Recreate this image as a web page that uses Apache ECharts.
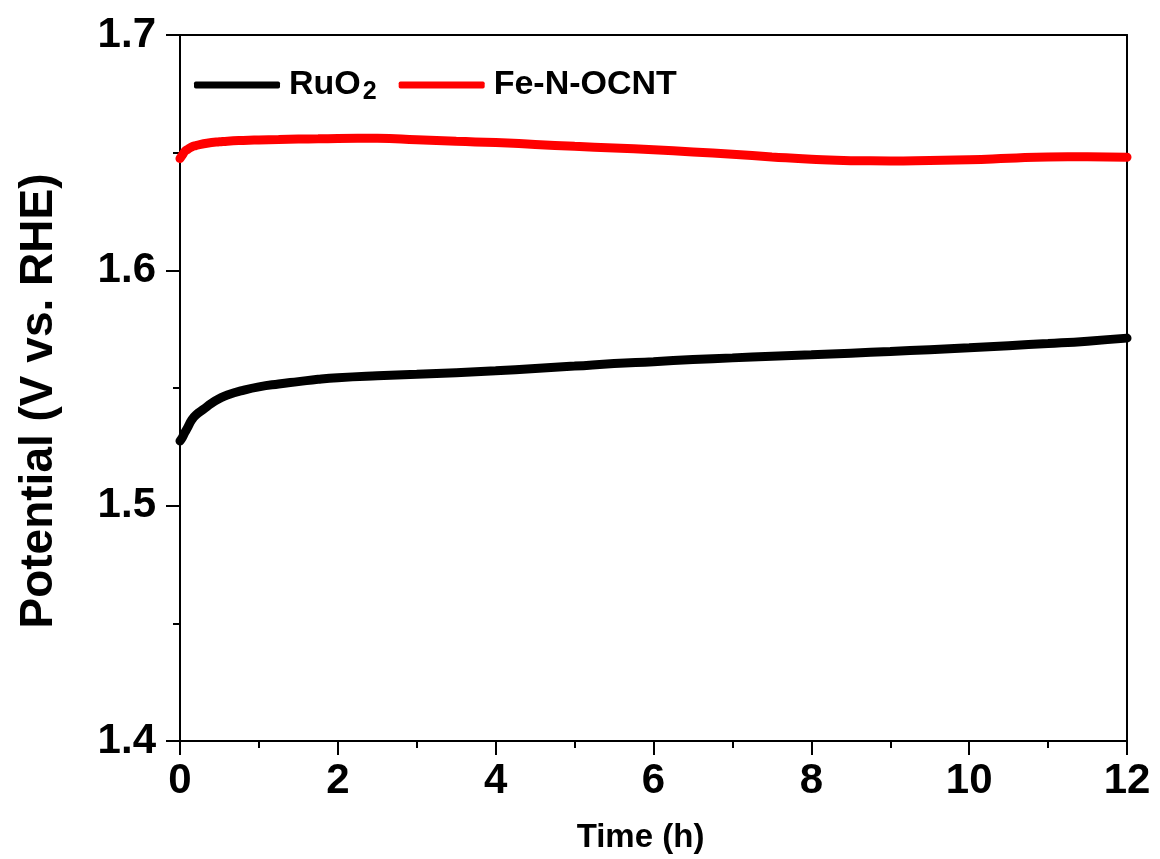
<!DOCTYPE html>
<html>
<head>
<meta charset="utf-8">
<style>html,body{margin:0;padding:0;background:#fff;}#chart{width:1160px;height:859px;}</style>
<script src="https://cdn.jsdelivr.net/npm/echarts@6/dist/echarts.min.js"></script>
</head>
<body>
<div id="chart"></div>
<script>
const seriesNames = ['RuO2', 'Fe-N-OCNT'];
const timeH = [0, 0.03, 0.06, 0.1, 0.15, 0.2, 0.3, 0.4, 0.5, 0.6, 0.8, 1.0, 1.25, 1.5, 1.75, 2.0, 2.5, 3.0, 3.5, 4.0, 4.5, 5.0, 5.5, 6.0, 6.5, 7.0, 7.5, 8.0, 8.5, 9.0, 9.5, 10.0, 10.5, 11.0, 11.5, 12.0];
const ruo2 = [1.5275, 1.529, 1.531, 1.5334, 1.5365, 1.5385, 1.541, 1.5435, 1.5455, 1.547, 1.549, 1.5505, 1.5517, 1.5527, 1.5537, 1.5544, 1.5552, 1.5558, 1.5565, 1.5573, 1.5583, 1.5593, 1.5604, 1.5612, 1.5621, 1.5628, 1.5635, 1.5641, 1.5648, 1.5655, 1.5663, 1.5671, 1.568, 1.5689, 1.5699, 1.5712];
const fenocnt = [1.6475, 1.649, 1.6505, 1.6515, 1.6525, 1.653, 1.6538, 1.6543, 1.6546, 1.6549, 1.6552, 1.6554, 1.6556, 1.6558, 1.6559, 1.656, 1.6561, 1.6555, 1.6548, 1.6543, 1.6535, 1.6527, 1.652, 1.6512, 1.6503, 1.6493, 1.6482, 1.6472, 1.6466, 1.6465, 1.6467, 1.647, 1.6476, 1.6482, 1.6483, 1.6481];
const xTicks = [0, 2, 4, 6, 8, 10, 12];
const yTicks = [1.4, 1.5, 1.6, 1.7];

const FONT = '"Liberation Sans", Arial, sans-serif';
const chart = echarts.init(document.getElementById('chart'));
const pairs = (ys) => timeH.map((t, i) => [t, ys[i]]);

chart.setOption({
  animation: false,
  backgroundColor: '#ffffff',
  grid: { left: 180, right: 33, top: 35, bottom: 118 },
  legend: {
    left: 189, top: 45,
    itemWidth: 86, itemHeight: 7, itemGap: 22,
    icon: 'roundRect',
    data: seriesNames,
    formatter: (n) => n === 'RuO2' ? '{n|RuO}{s|2}' : '{n|' + n + '}',
    textStyle: {
      fontFamily: FONT, fontWeight: 'bold', color: '#000',
      rich: {
        n: { fontFamily: FONT, fontWeight: 'bold', fontSize: 34, lineHeight: 40, color: '#000', padding: [0, 0, 0, 4] },
        s: { fontFamily: FONT, fontWeight: 'bold', fontSize: 25, lineHeight: 25, color: '#000', padding: [30, 0, 0, 2], verticalAlign: 'bottom' }
      }
    }
  },
  xAxis: [{
    type: 'value', min: xTicks[0], max: xTicks[xTicks.length - 1], interval: 2,
    name: 'Time (h)', nameLocation: 'middle', nameGap: 80,
    nameTextStyle: { fontFamily: FONT, fontWeight: 'bold', fontSize: 33, color: '#000', padding: [0, 26, 0, 0] },
    axisLine: { lineStyle: { color: '#000', width: 2 } },
    axisTick: { inside: false, length: 14, lineStyle: { color: '#000', width: 2 } },
    minorTick: { show: true, splitNumber: 2, length: 7, lineStyle: { color: '#000', width: 2 } },
    axisLabel: { fontFamily: FONT, fontWeight: 'bold', fontSize: 42, color: '#000', margin: 19 },
    splitLine: { show: false }
  }, {
    type: 'value', position: 'top', min: 0, max: 12,
    axisLine: { show: true, onZero: false, lineStyle: { color: '#000', width: 2 } },
    axisTick: { show: false }, axisLabel: { show: false }, splitLine: { show: false }
  }],
  yAxis: [{
    type: 'value', min: yTicks[0], max: yTicks[yTicks.length - 1], interval: 0.1,
    name: 'Potential (V vs. RHE)', nameLocation: 'middle', nameGap: 118,
    nameTextStyle: { fontFamily: FONT, fontWeight: 'bold', fontSize: 46, color: '#000', padding: [0, 26, 0, 0] },
    axisLine: { show: true, lineStyle: { color: '#000', width: 2 } },
    axisTick: { show: true, inside: false, length: 14, lineStyle: { color: '#000', width: 2 } },
    minorTick: { show: true, splitNumber: 2, length: 7, lineStyle: { color: '#000', width: 2 } },
    axisLabel: { fontFamily: FONT, fontWeight: 'bold', fontSize: 42, color: '#000', margin: 24, formatter: (v) => v.toFixed(1) },
    splitLine: { show: false }
  }, {
    type: 'value', position: 'right', min: 1.4, max: 1.7,
    axisLine: { show: true, onZero: false, lineStyle: { color: '#000', width: 2 } },
    axisTick: { show: false }, axisLabel: { show: false }, splitLine: { show: false }
  }],
  series: [{
    name: seriesNames[0], type: 'line', data: pairs(ruo2), showSymbol: false, smooth: true,
    lineStyle: { color: '#000000', width: 9, cap: 'round' }, itemStyle: { color: '#000000' }
  }, {
    name: seriesNames[1], type: 'line', data: pairs(fenocnt), showSymbol: false, smooth: true,
    lineStyle: { color: '#ff0000', width: 9, cap: 'round' }, itemStyle: { color: '#ff0000' }
  }]
});
</script>
</body>
</html>
